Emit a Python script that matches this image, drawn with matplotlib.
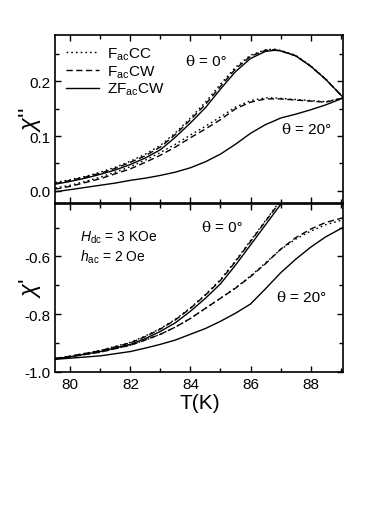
import matplotlib
matplotlib.use("Agg")
import matplotlib.pyplot as plt
from matplotlib.ticker import MultipleLocator

plt.rcParams['font.family'] = ['Liberation Sans', 'DejaVu Sans']
plt.rcParams['mathtext.fontset'] = 'custom'
plt.rcParams['mathtext.rm'] = 'Liberation Sans'
plt.rcParams['mathtext.it'] = 'Liberation Sans:italic'

# ---- data: chi'' (top panel) ----
T_top = [79.5, 80, 80.5, 81, 81.5, 82, 82.5, 83, 83.5, 84, 84.5, 85, 85.5, 86, 86.5, 86.8, 87, 87.5, 88, 88.5, 89.1]
chi2_0_CC = [0.015, 0.020, 0.026, 0.034, 0.043, 0.054, 0.067, 0.083, 0.106, 0.133, 0.162, 0.195, 0.226, 0.248, 0.258, 0.259, 0.257, 0.248, 0.229, 0.205, 0.170]
chi2_0_CW = [0.013, 0.019, 0.025, 0.032, 0.041, 0.052, 0.064, 0.080, 0.103, 0.130, 0.158, 0.191, 0.223, 0.246, 0.257, 0.258, 0.256, 0.247, 0.228, 0.204, 0.170]
chi2_0_ZF = [0.012, 0.017, 0.023, 0.030, 0.038, 0.048, 0.060, 0.075, 0.098, 0.124, 0.152, 0.186, 0.218, 0.242, 0.255, 0.257, 0.256, 0.247, 0.228, 0.204, 0.170]
chi2_20_CC = [0.005, 0.010, 0.017, 0.025, 0.034, 0.044, 0.056, 0.070, 0.085, 0.102, 0.118, 0.135, 0.153, 0.165, 0.170, 0.170, 0.169, 0.167, 0.165, 0.163, 0.170]
chi2_20_CW = [0.003, 0.008, 0.015, 0.022, 0.031, 0.040, 0.052, 0.065, 0.080, 0.097, 0.113, 0.130, 0.150, 0.162, 0.168, 0.168, 0.168, 0.166, 0.164, 0.162, 0.170]
chi2_20_ZF = [-0.002, 0.002, 0.006, 0.010, 0.014, 0.019, 0.023, 0.028, 0.034, 0.042, 0.053, 0.067, 0.085, 0.105, 0.121, 0.128, 0.133, 0.140, 0.148, 0.157, 0.170]

# ---- data: chi' (bottom panel) ----
T_bot = [79.5, 80, 81, 82, 82.5, 83, 83.5, 84, 84.5, 85, 85.5, 86, 86.5, 87, 87.5, 88, 88.5, 89.1]
chi1_0_CC = [-0.954, -0.946, -0.926, -0.898, -0.876, -0.850, -0.818, -0.778, -0.732, -0.680, -0.615, -0.545, -0.475, -0.405, -0.34, -0.30, -0.28, -0.26]
chi1_0_CW = [-0.954, -0.946, -0.927, -0.900, -0.878, -0.852, -0.820, -0.780, -0.734, -0.683, -0.618, -0.548, -0.478, -0.408, -0.34, -0.30, -0.28, -0.26]
chi1_0_ZF = [-0.955, -0.948, -0.930, -0.905, -0.885, -0.860, -0.830, -0.790, -0.745, -0.695, -0.630, -0.560, -0.490, -0.420, -0.35, -0.31, -0.29, -0.27]
chi1_20_CC = [-0.955, -0.948, -0.932, -0.908, -0.890, -0.870, -0.845, -0.815, -0.780, -0.745, -0.709, -0.668, -0.622, -0.576, -0.540, -0.512, -0.490, -0.472]
chi1_20_CW = [-0.955, -0.948, -0.932, -0.908, -0.890, -0.870, -0.845, -0.815, -0.780, -0.745, -0.710, -0.670, -0.625, -0.575, -0.535, -0.505, -0.482, -0.465]
chi1_20_ZF = [-0.957, -0.953, -0.945, -0.930, -0.918, -0.905, -0.890, -0.870, -0.850, -0.825, -0.797, -0.765, -0.712, -0.657, -0.610, -0.568, -0.532, -0.498]

labels = ["F$_{\\rm ac}$CC", "F$_{\\rm ac}$CW", "ZF$_{\\rm ac}$CW"]

W, H = 377, 510
fig = plt.figure(figsize=(W / 100, H / 100), dpi=100)
L, R = 55 / W, 343.3 / W
ax1 = fig.add_axes([L, 1 - 204 / H, R - L, (204 - 36) / H])
ax2 = fig.add_axes([L, 1 - 372.7 / H, R - L, (372.7 - 204.5) / H])

lw = 1.0
dot = dict(color='black', lw=lw, linestyle=(0, (1.2, 2.2)))
dash = dict(color='black', lw=lw, linestyle=(0, (4.5, 2.5)))
sol = dict(color='black', lw=lw, linestyle='-')

ax1.plot(T_top, chi2_0_CC, label=labels[0], **dot)
ax1.plot(T_top, chi2_0_CW, label=labels[1], **dash)
ax1.plot(T_top, chi2_0_ZF, label=labels[2], **sol)
ax1.plot(T_top, chi2_20_CC, **dot)
ax1.plot(T_top, chi2_20_CW, **dash)
ax1.plot(T_top, chi2_20_ZF, **sol)

ax2.plot(T_bot, chi1_0_CC, **dot)
ax2.plot(T_bot, chi1_0_CW, **dash)
ax2.plot(T_bot, chi1_0_ZF, **sol)
ax2.plot(T_bot, chi1_20_CC, **dot)
ax2.plot(T_bot, chi1_20_CW, **dash)
ax2.plot(T_bot, chi1_20_ZF, **sol)

for ax in (ax1, ax2):
    ax.set_xlim(79.49, 89.09)
    ax.xaxis.set_major_locator(MultipleLocator(2))
    ax.xaxis.set_minor_locator(MultipleLocator(1))
    ax.tick_params(which='both', direction='in', top=True, right=True, labelsize=11, width=1)
    ax.tick_params(which='major', length=4.5)
    ax.tick_params(which='minor', length=3)
    for s in ax.spines.values():
        s.set_linewidth(1.2)

ax1.set_ylim(-0.0225, 0.285)
ax1.yaxis.set_major_locator(MultipleLocator(0.1))
ax1.yaxis.set_minor_locator(MultipleLocator(0.05))
ax1.tick_params(labelbottom=False)
ax1.set_yticks([0.0, 0.1, 0.2])
ax1.set_yticklabels(['0.0', '0.1', '0.2'])

ax2.set_ylim(-1.0, -0.416)
ax2.yaxis.set_major_locator(MultipleLocator(0.2))
ax2.yaxis.set_minor_locator(MultipleLocator(0.1))
ax2.set_yticks([-1.0, -0.8, -0.6])
ax2.set_yticklabels(['-1.0', '-0.8', '-0.6'])
ax2.set_xticks([80, 82, 84, 86, 88])
ax2.set_xticklabels(['80', '82', '84', '86', '88'])

leg = ax1.legend(loc='upper left', frameon=False, fontsize=11, handlelength=2.2,
                 handletextpad=0.5, labelspacing=0.08, borderaxespad=0.3,
                 bbox_to_anchor=(0.0, 1.0))

def ftext(x, y, s, **kw):
    fig.text(x / W, 1 - y / H, s, va='center', ha='left', **kw)

th = ['DejaVu Serif']
ftext(185, 62, "θ", fontsize=11, family=th)
ftext(199, 62, "= 0°", fontsize=11)
ftext(281, 130, "θ", fontsize=11, family=th)
ftext(295, 130, "= 20°", fontsize=11)
ftext(201, 228, "θ", fontsize=11, family=th)
ftext(215, 228, "= 0°", fontsize=11)
ftext(276, 298, "θ", fontsize=11, family=th)
ftext(290, 298, "= 20°", fontsize=11)
ftext(80, 238, "$H_{\\rm dc}$ = 3 KOe", fontsize=10)
ftext(80, 257, "$h_{\\rm ac}$ = 2 Oe", fontsize=10)

fig.text(30 / W, 1 - 120 / H, "$\\chi$''", fontsize=17, rotation=90, va='center', ha='center')
fig.text(30 / W, 1 - 288 / H, "$\\chi$'", fontsize=17, rotation=90, va='center', ha='center')
fig.text(200 / W, 1 - 404 / H, "T(K)", fontsize=15, va='center', ha='center')

fig.savefig("out.png", dpi=100)
